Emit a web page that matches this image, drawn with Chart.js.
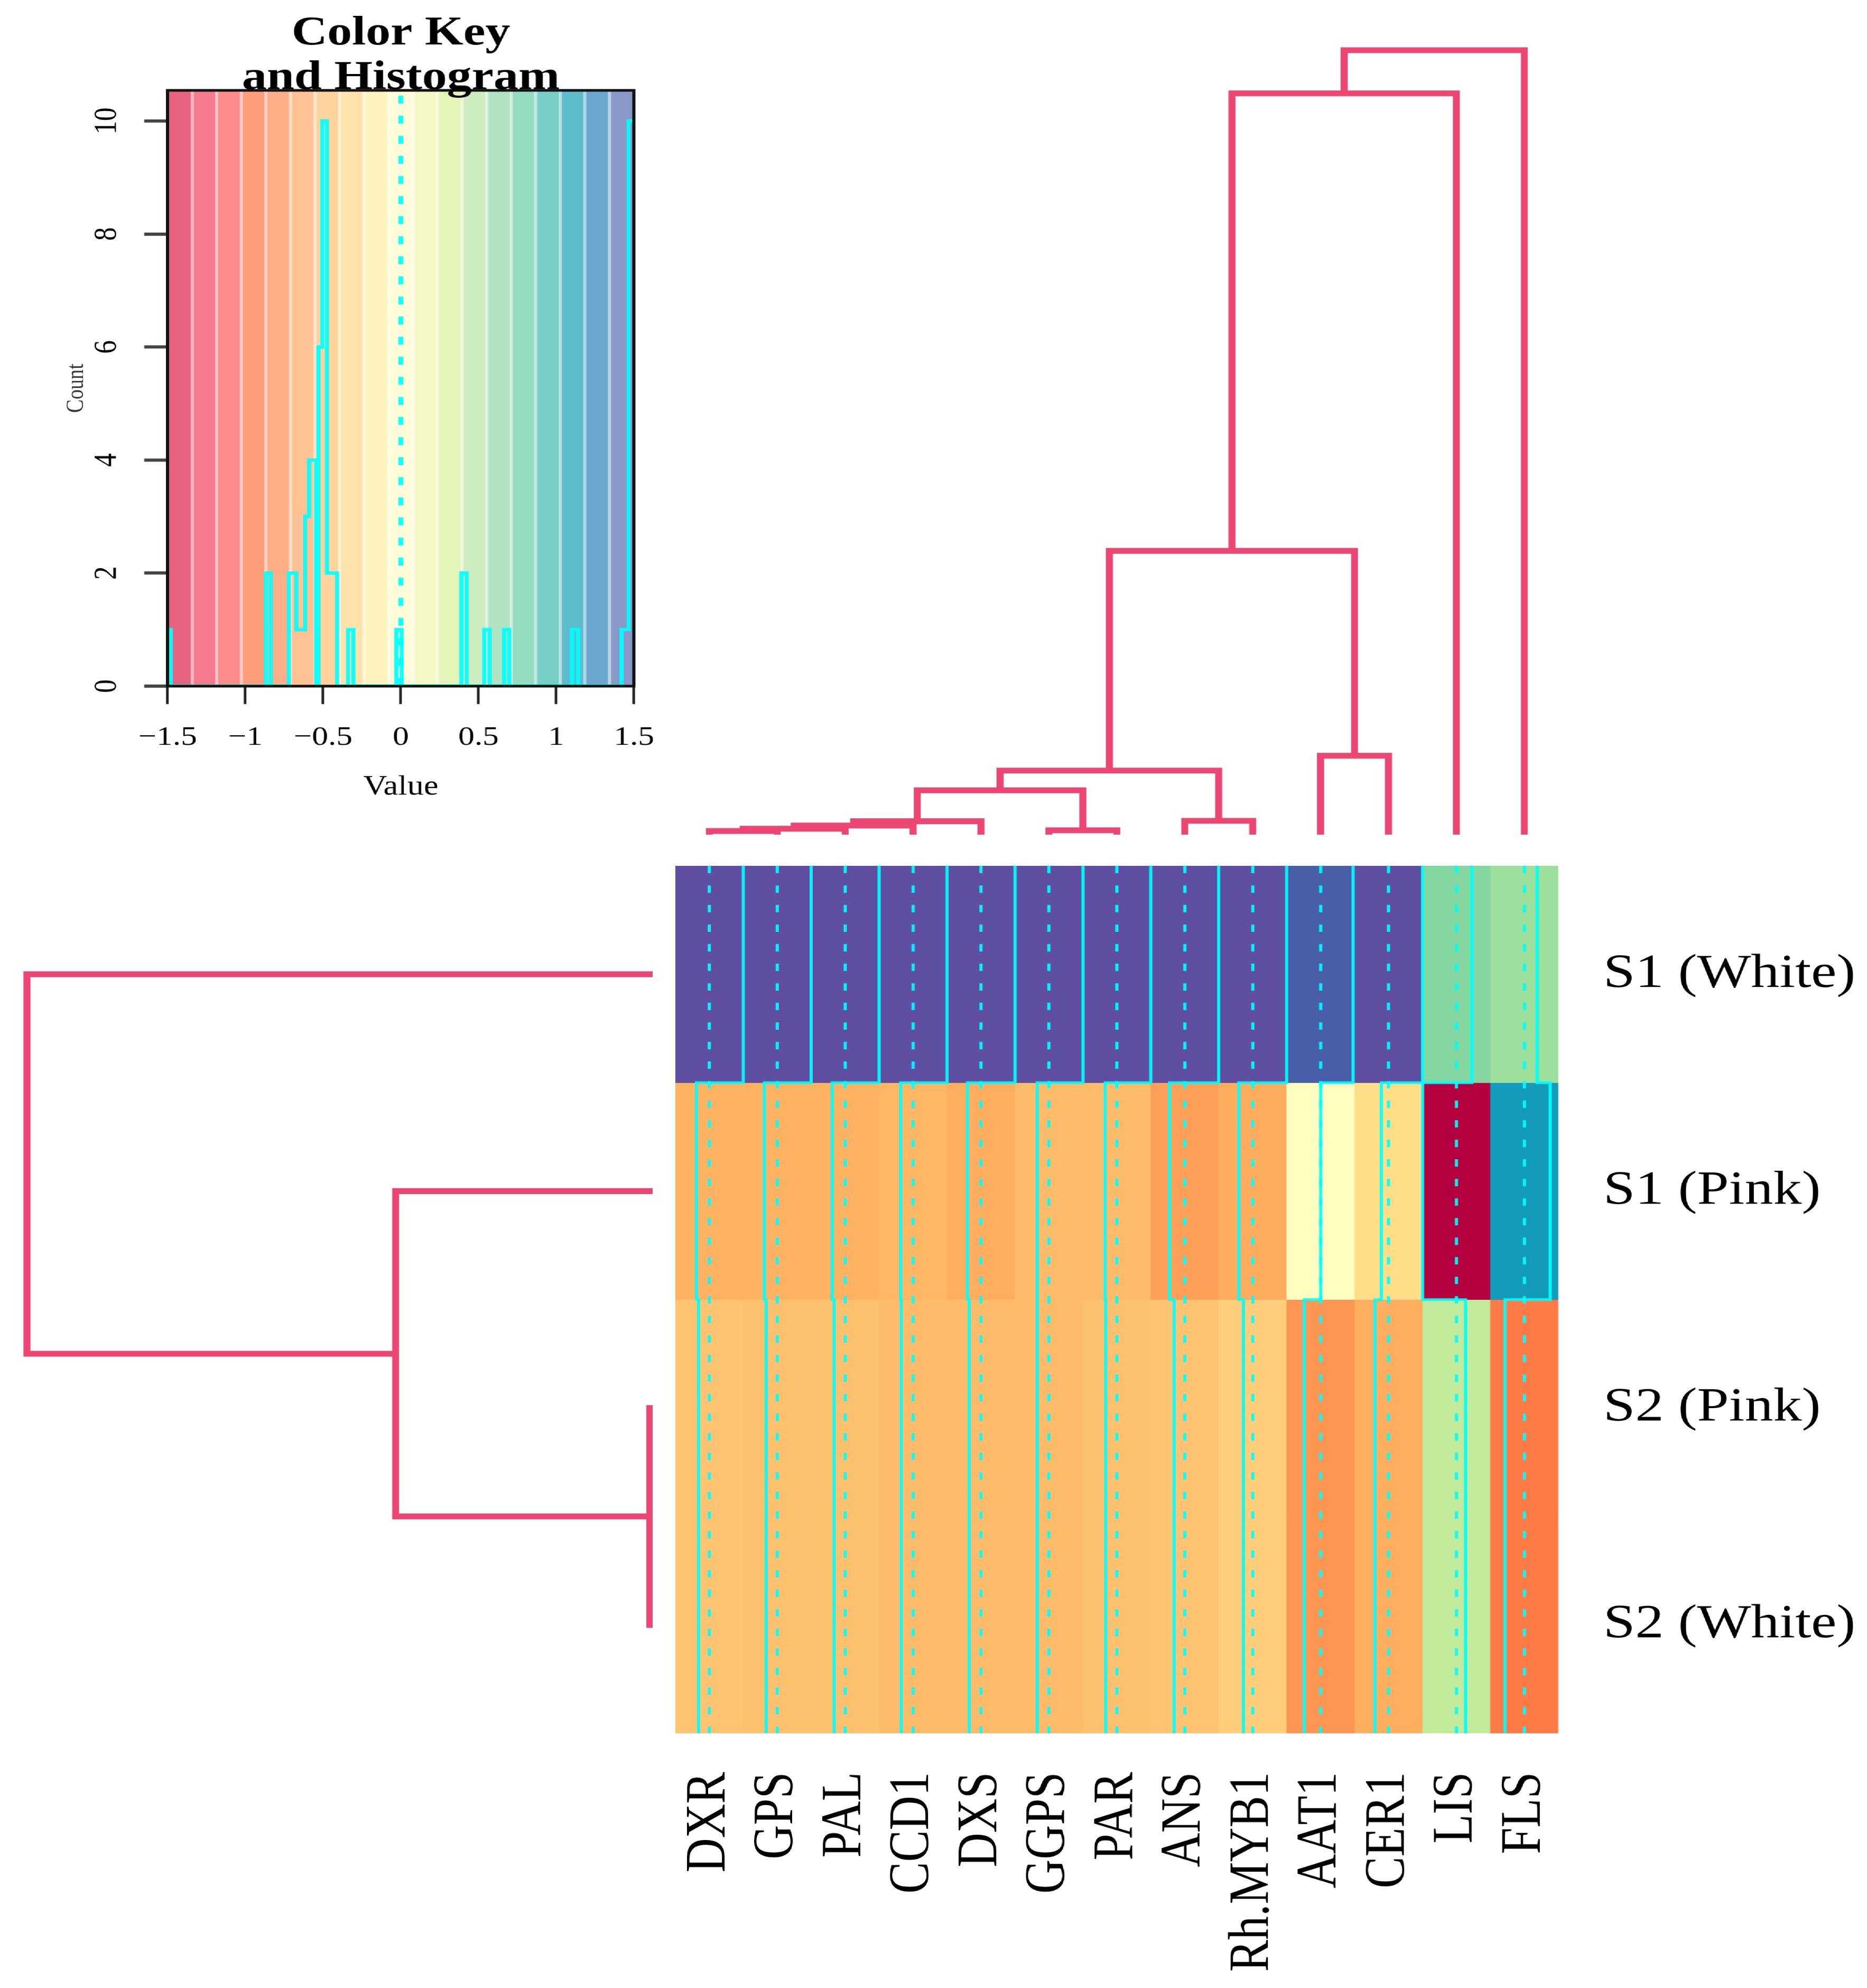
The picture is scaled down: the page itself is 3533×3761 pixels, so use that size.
<!DOCTYPE html>
<html>
<head>
<meta charset="utf-8">
<script src="https://cdn.jsdelivr.net/npm/chart.js@4.4.1/dist/chart.umd.min.js"></script>
<style>
  html, body { margin: 0; padding: 0; background: #fff; overflow: hidden; }
  /* the original figure is stretched horizontally, so the whole page is drawn narrow and widened */
  #wrap { position: absolute; left: 0; top: 0; width: 2944px; height: 3761px; transform: scaleX(1.2); transform-origin: 0 0; }
  #wrap canvas { position: absolute; }
</style>
</head>
<body>
<div id="wrap">
  <canvas id="keyChart" width="1264" height="1560" style="left:0px;top:0px"></canvas>
  <canvas id="colTree" width="1392" height="1499" style="left:1065px;top:80px"></canvas>
  <canvas id="rowTree" width="999" height="1641" style="left:30px;top:1638px"></canvas>
  <canvas id="heatChart" width="1879" height="2123" style="left:1065px;top:1638px"></canvas>
</div>
<script>
const genes = ['DXR', 'GPS', 'PAL', 'CCD1', 'DXS', 'GGPS', 'PAR', 'ANS', 'Rh.MYB1', 'AAT1', 'CER1', 'LIS', 'FLS'];
const samples = ['S1 (White)', 'S1 (Pink)', 'S2 (Pink)', 'S2 (White)'];

// scaled values per sample, in gene order
const s1White = [1.5, 1.5, 1.5, 1.5, 1.5, 1.5, 1.5, 1.5, 1.5, 1.43, 1.5, 0.68, 0.56];
const s1Pink  = [-0.57, -0.57, -0.57, -0.55, -0.6, -0.52, -0.52, -0.67, -0.61, 0.0, -0.32, -1.5, 1.14];
const s2Pink  = [-0.47, -0.49, -0.49, -0.52, -0.52, -0.52, -0.49, -0.47, -0.41, -0.72, -0.6, 0.4, -0.86];
const s2White = [-0.47, -0.49, -0.49, -0.52, -0.52, -0.52, -0.49, -0.47, -0.41, -0.72, -0.6, 0.4, -0.86];

// dendrograms, hclust style (negative = leaf number)
const colMerge = [[-1, -2], [-6, -7], [1, -3], [3, -4], [4, -5], [-8, -9], [5, 2], [7, 6], [-10, -11], [8, 9], [10, -12], [11, -13]];
const colHeight = [0.05, 0.06, 0.08, 0.12, 0.175, 0.18, 0.57, 0.82, 1.01, 3.62, 9.45, 10];
const rowMerge = [[-3, -4], [-2, 1], [-1, 2]];
const rowHeight = [0.05, 4.11, 10];

// color key histogram
const histEdges = [-1.5, -1.48, -0.868, -0.836, -0.72, -0.672, -0.615, -0.59, -0.545, -0.53, -0.505, -0.475, -0.41,
  -0.339, -0.305, -0.028, 0.006, 0.39, 0.424, 0.537, 0.571, 0.664, 0.698, 1.102, 1.141, 1.42, 1.465, 1.5];
const histCounts = [1, 0, 2, 0, 2, 1, 3, 4, 0, 6, 10, 2, 0, 1, 0, 1, 0, 2, 0, 1, 0, 1, 0, 1, 0, 1, 10];
const keyXTicks = [-1.5, -1, -0.5, 0, 0.5, 1, 1.5];
const keyYTicks = [0, 2, 4, 6, 8, 10];

const keyMin = -1.5, keyMax = 1.5;
const keyColors = ['#E5637F', '#F57A8D', '#FD8C8A', '#FE9C7C', '#FEAF88', '#FEC294', '#FED39E', '#FEE4AC', '#FEF2BE',
  '#FDFCD6', '#F4F9C6', '#E4F5B9', '#CDECC0', '#B0E3C0', '#93DCBF', '#76CEC4', '#5DBBCC', '#6AA6CD', '#8A98C8'];
const heatStops = [[-1.5, '#B5003F'], [-1.2, '#E3405A'], [-0.9, '#FE7343'], [-0.6, '#FEAE5E'], [-0.3, '#FEE18A'],
  [0, '#FFFDBF'], [0.3, '#D8F09A'], [0.6, '#93DD9C'], [0.9, '#5BC8AA'], [1.2, '#0090BE'], [1.5, '#5E4FA2']];
const treeColor = '#EC4672';
const cyan = 'rgba(0,255,255,0.92)';
const serif = '"Liberation Serif", "Times New Roman", serif';

Chart.defaults.font.family = serif;
Chart.defaults.color = '#000';

function hexRgb(h) {
  return [1, 3, 5].map(i => parseInt(h.substr(i, 2), 16));
}

function valueColor(v) {
  if (v <= heatStops[0][0]) return heatStops[0][1];
  for (let i = 1; i < heatStops.length; i++) {
    if (v <= heatStops[i][0]) {
      const [v0, c0] = heatStops[i - 1], [v1, c1] = heatStops[i];
      const f = (v - v0) / (v1 - v0);
      const a = hexRgb(c0), b = hexRgb(c1);
      return 'rgb(' + a.map((x, k) => Math.round(x + (b[k] - x) * f)).join(',') + ')';
    }
  }
  return heatStops[heatStops.length - 1][1];
}

function scale01(v) {
  return Math.min(1, Math.max(0, (v - keyMin) / (keyMax - keyMin)));
}

// segments of a dendrogram: [leaf-axis position, height] per corner
function dendroSegments(merge, heights) {
  const nodePos = [], nodeH = [];
  const at = k => k < 0 ? [-k - 0.5, 0] : [nodePos[k - 1], nodeH[k - 1]];
  return merge.map(([a, b], i) => {
    const h = heights[i];
    const [pa, ha] = at(a), [pb, hb] = at(b);
    nodePos.push((pa + pb) / 2);
    nodeH.push(h);
    return [[pa, ha], [pa, h], [pb, h], [pb, hb]];
  });
}

function treeDataset(points) {
  return {
    type: 'line', data: points, borderColor: treeColor, borderWidth: 11,
    pointRadius: 0, borderJoinStyle: 'miter', borderCapStyle: 'butt', clip: false
  };
}

const baseOptions = {
  responsive: false, animation: false, events: [], devicePixelRatio: 1.2,
  plugins: { legend: { display: false }, tooltip: { enabled: false } }
};

// ---------- color key ----------
const keyBands = {
  id: 'keyBands',
  beforeDatasetsDraw(chart) {
    const { ctx, chartArea: a, scales: { x } } = chart;
    const step = (keyMax - keyMin) / keyColors.length;
    ctx.save();
    keyColors.forEach((c, i) => {
      const x0 = x.getPixelForValue(keyMin + i * step);
      const x1 = x.getPixelForValue(keyMin + (i + 1) * step);
      ctx.fillStyle = c;
      ctx.fillRect(x0, a.top, x1 - x0 + 0.5, a.bottom - a.top);
    });
    ctx.fillStyle = 'rgba(255,255,255,0.5)';
    for (let i = 1; i < keyColors.length; i++) {
      const xb = x.getPixelForValue(keyMin + i * step);
      ctx.fillRect(xb - 2.5, a.top, 5, a.bottom - a.top);
    }
    ctx.restore();
  },
  afterDatasetsDraw(chart) {
    const { ctx, chartArea: a } = chart;
    ctx.save();
    ctx.strokeStyle = '#111';
    ctx.lineWidth = 5;
    ctx.strokeRect(a.left, a.top, a.right - a.left, a.bottom - a.top);
    ctx.restore();
  },
  afterDraw(chart) {
    const { ctx, chartArea: a, scales: { y } } = chart;
    ctx.save();
    ctx.fillStyle = '#000';
    ctx.font = '51px ' + serif;
    ctx.textAlign = 'center';
    ctx.textBaseline = 'middle';
    y.ticks.forEach(t => {
      ctx.save();
      ctx.translate(y.right - 95, y.getPixelForValue(t.value));
      ctx.rotate(-Math.PI / 2);
      ctx.fillText(String(t.value), 0, 0);
      ctx.restore();
    });
    const cx = (a.left + a.right) / 2;
    ctx.font = 'bold 78px ' + serif;
    ctx.textBaseline = 'alphabetic';
    ctx.fillText('Color Key', cx, 84);
    ctx.fillText('and Histogram', cx, 168);
    ctx.restore();
  }
};

const histPoints = histCounts.map((c, i) => ({ x: histEdges[i], y: c }));
histPoints.push({ x: histEdges[histEdges.length - 1], y: histCounts[histCounts.length - 1] });
const keyTop = 10.54;

new Chart(document.getElementById('keyChart'), {
  type: 'line',
  data: {
    datasets: [
      { data: histPoints, stepped: 'before', borderColor: cyan, borderWidth: 6.5, pointRadius: 0, borderJoinStyle: 'miter' },
      { data: [{ x: 0, y: 0 }, { x: 0, y: keyTop }], borderColor: cyan, borderWidth: 8, borderDash: [15, 23], pointRadius: 0 }
    ]
  },
  options: {
    ...baseOptions,
    layout: { padding: { top: 171, right: 264.8, left: 0, bottom: 0 } },
    scales: {
      x: {
        type: 'linear', min: keyMin, max: keyMax,
        afterBuildTicks: s => { s.ticks = keyXTicks.map(v => ({ value: v })); },
        afterFit: s => { s.height = 262; s.paddingLeft = 0; s.paddingRight = 0; },
        ticks: {
          padding: 33, maxRotation: 0, autoSkip: false, font: { size: 51 },
          callback: v => (v < 0 ? '\u2212' + Math.abs(v) : String(v))
        },
        grid: { drawOnChartArea: false, tickLength: 34, tickColor: '#222', tickWidth: 4 },
        border: { display: false },
        title: { display: true, text: 'Value', font: { size: 52 }, padding: { top: 0, bottom: 38.8 } }
      },
      y: {
        type: 'linear', min: 0, max: keyTop,
        afterBuildTicks: s => { s.ticks = keyYTicks.map(v => ({ value: v })); },
        afterFit: s => { s.width = 264.2; s.paddingTop = 0; s.paddingBottom = 0; },
        ticks: { display: false },
        grid: { drawOnChartArea: false, tickLength: 37, tickColor: '#444', tickWidth: 6 },
        border: { display: false },
        title: { display: true, text: 'Count', font: { size: 38 }, color: '#333', padding: { top: 98.2, bottom: 0 } }
      }
    }
  },
  plugins: [keyBands]
});

// ---------- column dendrogram ----------
new Chart(document.getElementById('colTree'), {
  type: 'line',
  data: {
    datasets: dendroSegments(colMerge, colHeight).map(seg => treeDataset(seg.map(([p, h]) => ({ x: p, y: h }))))
  },
  options: {
    ...baseOptions,
    layout: { padding: { top: 15, left: 0, right: 0, bottom: 0 } },
    scales: {
      x: { type: 'linear', min: 0, max: genes.length, display: false },
      y: { type: 'linear', min: 0, max: colHeight[colHeight.length - 1], display: false }
    }
  }
});

// ---------- row dendrogram ----------
new Chart(document.getElementById('rowTree'), {
  type: 'line',
  data: {
    datasets: dendroSegments(rowMerge, rowHeight).map(seg => treeDataset(seg.map(([p, h]) => ({ x: h, y: p }))))
  },
  options: {
    ...baseOptions,
    layout: { padding: { left: 12.5, right: 0, top: 0, bottom: 0 } },
    scales: {
      x: { type: 'linear', min: 0, max: rowHeight[rowHeight.length - 1], reverse: true, display: false },
      y: { type: 'linear', min: 0, max: samples.length, reverse: true, display: false }
    }
  }
});

// ---------- heatmap with column traces ----------
const rows = [s1White, s1Pink, s2Pink, s2White];
const heatSets = [];

rows.forEach((row, r) => {
  heatSets.push({
    type: 'bar', label: samples[r], order: 3,
    data: genes.map((g, c) => ({ x: c + 0.5, y: [r, r + 1] })),
    backgroundColor: row.map(valueColor),
    grouped: false, barPercentage: 1, categoryPercentage: 1, borderWidth: 0
  });
});

genes.forEach((g, c) => {
  heatSets.push({
    type: 'line', order: 2,
    data: [{ x: c + scale01(0), y: 0 }, { x: c + scale01(0), y: rows.length }],
    borderColor: cyan, borderWidth: 5, borderDash: [14, 23], pointRadius: 0
  });
  const pts = [{ x: c + scale01(rows[0][c]), y: 0 }];
  rows.forEach((row, r) => pts.push({ x: c + scale01(row[c]), y: r + 1 }));
  heatSets.push({
    type: 'line', order: 1, data: pts, stepped: 'before',
    borderColor: cyan, borderWidth: 5, pointRadius: 0, borderJoinStyle: 'miter'
  });
});

new Chart(document.getElementById('heatChart'), {
  type: 'bar',
  data: { datasets: heatSets },
  options: {
    ...baseOptions,
    layout: { padding: 0 },
    scales: {
      x: { type: 'linear', min: 0, max: genes.length, offset: false, grid: { offset: false }, display: false },
      y: { type: 'linear', min: 0, max: samples.length, reverse: true, display: false },
      xl: {
        type: 'category', labels: genes, position: 'bottom', offset: true,
        grid: { display: false, drawTicks: false }, border: { display: false },
        ticks: { autoSkip: false, minRotation: 90, maxRotation: 90, padding: 73, font: { size: 90 } },
        afterFit: s => { s.height = 482; s.paddingLeft = 0; s.paddingRight = 0; }
      },
      yr: {
        type: 'category', labels: samples, position: 'right', offset: true,
        grid: { display: false, drawTicks: false }, border: { display: false },
        ticks: { padding: 71, font: { size: 90 } },
        afterFit: s => { s.width = 487; s.paddingTop = 0; s.paddingBottom = 0; }
      }
    }
  }
});
</script>
</body>
</html>
